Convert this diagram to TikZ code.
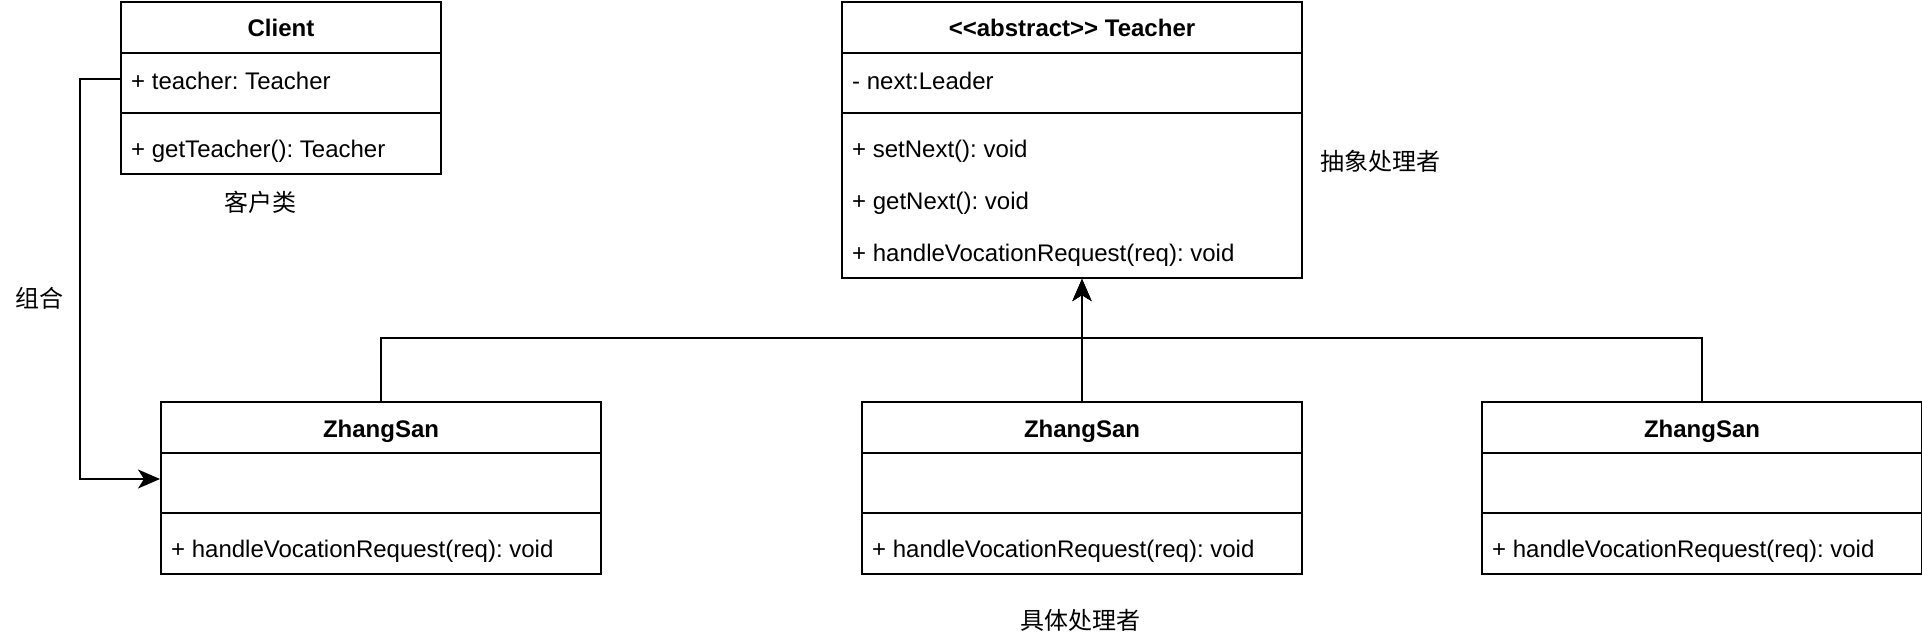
\documentclass[tikz,border=0pt]{standalone}
\usepackage{fontspec}
\setmainfont{Liberation Sans}
\newfontfamily\cjk{Noto Sans CJK SC}
\usetikzlibrary{arrows.meta}
\frenchspacing
\begin{document}
\frenchspacing
\begin{tikzpicture}[x=1pt,y=-1pt,
  classbox/.style={draw, line width=2pt, anchor=north west, inner sep=0pt, minimum height=172pt},
  sep/.style={line width=2pt},
  hdr/.style={anchor=base, inner sep=0pt, font=\fontsize{24}{29}\selectfont\bfseries},
  attr/.style={anchor=base west, inner sep=0pt, font=\fontsize{24}{29}\selectfont},
  lbl/.style={anchor=base, inner sep=0pt, font=\fontsize{24}{29}\selectfont\cjk},
  edge/.style={line width=2pt},
  tip/.style={-{Stealth[length=22pt,width=19pt,inset=6pt]}}
]
\useasboundingbox (0,0) rectangle (1922,642);

% Client
\node[classbox, minimum width=320pt] (client) at (120,1) {};
\draw[sep] ([yshift=-52pt]client.north west) -- ([yshift=-52pt]client.north east);
\draw[sep] ([yshift=-112pt]client.north west) -- ([yshift=-112pt]client.north east);
\node[hdr] (clientT) at ([yshift=-36pt]client.north) {Client};
\node[attr] (clientA) at ([xshift=11pt,yshift=-88pt]client.north west) {+ teacher: Teacher};
\node[attr] (clientM) at ([xshift=11pt,yshift=-156pt]client.north west) {+ getTeacher(): Teacher};

% Teacher
\node[classbox, minimum width=460pt, minimum height=276pt] (teacher) at (841,1) {};
\draw[sep] ([yshift=-52pt]teacher.north west) -- ([yshift=-52pt]teacher.north east);
\draw[sep] ([yshift=-112pt]teacher.north west) -- ([yshift=-112pt]teacher.north east);
\node[hdr] (teacherT) at ([yshift=-36pt]teacher.north) {<{}<abstract>{}> Teacher};
\node[attr] (teacherA) at ([xshift=11pt,yshift=-88pt]teacher.north west) {- next:Leader};
\node[attr] (teacherM1) at ([xshift=11pt,yshift=-156pt]teacher.north west) {+ setNext(): void};
\node[attr] (teacherM2) at ([xshift=11pt,yshift=-208pt]teacher.north west) {+ getNext(): void};
\node[attr] (teacherM3) at ([xshift=11pt,yshift=-260pt]teacher.north west) {+ handleVocationRequest(req): void};

% ZhangSan boxes
\foreach \n/\x in {zs1/160, zs2/861, zs3/1481} {
  \node[classbox, minimum width=440pt] (\n) at (\x,401) {};
  \draw[sep] ([yshift=-52pt]\n.north west) -- ([yshift=-52pt]\n.north east);
  \draw[sep] ([yshift=-112pt]\n.north west) -- ([yshift=-112pt]\n.north east);
  \node[hdr] (\n T) at ([yshift=-36pt]\n.north) {ZhangSan};
  \node[attr] (\n M) at ([xshift=11pt,yshift=-156pt]\n.north west) {+ handleVocationRequest(req): void};
}

% Labels
\node[lbl] (lclient) at (260,211) {客户类};
\node[lbl] (lcomp) at (40,307) {组合};
\node[lbl] (labs) at (1380,170) {抽象处理者};
\node[lbl] (lconc) at (1080,629) {具体处理者};

% Composition
\draw[edge, tip] ([yshift=-78pt]client.north west) -- ++(-40,0) |- ([yshift=-78pt]zs1.north west);

% Generalization
\coordinate (tgt) at (zs2.north |- teacher.south);
\draw[edge, tip] (zs1.north) -- ++(0,-63) -| (tgt);
\draw[edge, tip] (zs3.north) -- ++(0,-63) -| (tgt);
\draw[edge, tip] (zs2.north) -- (tgt);
\end{tikzpicture}
\end{document}
